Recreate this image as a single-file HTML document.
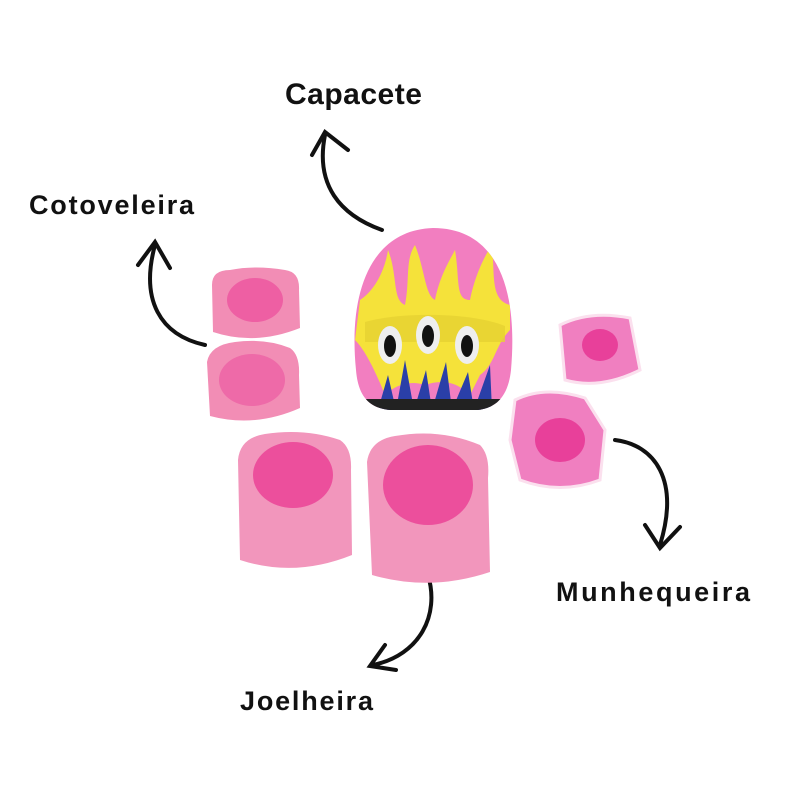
<!DOCTYPE html>
<html><head><meta charset="utf-8"><style>
html,body{margin:0;padding:0;background:#fff;width:800px;height:800px;overflow:hidden}
text{font-family:"Liberation Sans",sans-serif;font-weight:bold;fill:#111}
</style></head><body>
<svg width="800" height="800" viewBox="0 0 800 800" xmlns="http://www.w3.org/2000/svg">
<rect width="800" height="800" fill="#fff"/>
<text x="285" y="104" font-size="30" letter-spacing="0.5">Capacete</text>
<text x="29" y="214" font-size="27" letter-spacing="1.8">Cotoveleira</text>
<text x="556" y="601" font-size="27" letter-spacing="2.6">Munhequeira</text>
<text x="240" y="710" font-size="27" letter-spacing="1.8">Joelheira</text>
<g fill="none" stroke="#111" stroke-width="4" stroke-linecap="round">
<path d="M382 230 C340 215 315 185 325 135"/>
<path d="M312 155 L325 132 L348 150"/>
<path d="M205 345 C160 335 140 300 155 245"/>
<path d="M138 265 L155 242 L170 268"/>
<path d="M615 440 C655 445 680 480 660 545"/>
<path d="M645 525 L660 548 L680 527"/>
<path d="M428 575 C440 615 420 655 373 665"/>
<path d="M385 645 L370 666 L396 670"/>
</g>
<defs><clipPath id="h"><path d="M356 370 C348 290 372 230 433 228 C498 228 518 290 511 370 C508 398 495 408 478 410 L390 410 C368 408 358 395 356 370Z"/></clipPath></defs>
<path d="M356 370 C348 290 372 230 433 228 C498 228 518 290 511 370 C508 398 495 408 478 410 L390 410 C368 408 358 395 356 370Z" fill="#f27ec0"/>
<g clip-path="url(#h)">
<path d="M360 300 C375 290 385 270 388 250 C398 275 392 300 405 305 C410 280 405 260 415 245 C425 270 425 295 435 300 C440 275 450 260 455 250 C460 280 455 300 470 300 C475 275 485 255 492 245 C495 275 490 300 510 305 L510 330 C495 345 495 365 480 375 L470 395 C455 380 440 380 425 385 C410 380 395 385 385 395 C375 370 365 350 355 340 Z" fill="#f5e23a"/>
<path d="M365 322 C400 312 470 312 505 326 L505 342 L365 342Z" fill="#e6d232" opacity="0.8"/>
<path d="M378 410 L388 375 L396 410 L405 360 L414 410 L426 370 L432 410 L446 362 L452 410 L468 372 L474 410 L490 365 L492 410Z" fill="#2a3fa8"/>
<rect x="350" y="399" width="170" height="20" fill="#222"/>
</g>
<g fill="#eee"><ellipse cx="390" cy="345" rx="12" ry="19"/><ellipse cx="428" cy="335" rx="12" ry="19"/><ellipse cx="467" cy="345" rx="12" ry="19"/></g>
<g fill="#111"><ellipse cx="390" cy="346" rx="6" ry="11"/><ellipse cx="428" cy="336" rx="6" ry="11"/><ellipse cx="467" cy="346" rx="6" ry="11"/></g>
<path d="M212 285 Q212 270 230 270 Q255 265 285 270 Q300 272 299 290 L300 328 Q255 346 213 332Z" fill="#f28db5"/>
<ellipse cx="255" cy="300" rx="28" ry="22" fill="#ee5fa3"/>
<path d="M207 362 Q210 345 235 342 Q265 338 290 348 Q300 355 299 375 L300 408 Q255 428 210 416Z" fill="#f28db5"/>
<ellipse cx="252" cy="380" rx="33" ry="26" fill="#ee6aa8"/>
<path d="M238 460 Q240 438 265 434 Q305 428 340 440 Q352 448 351 470 L352 555 Q295 578 240 560Z" fill="#f296bc"/>
<ellipse cx="293" cy="475" rx="40" ry="33" fill="#ec4f9c"/>
<path d="M367 462 Q370 440 395 436 Q440 428 480 445 Q490 455 488 478 L490 572 Q430 592 372 575Z" fill="#f296bc"/>
<ellipse cx="428" cy="485" rx="45" ry="40" fill="#ec4f9c"/>
<path d="M560 325 Q590 310 630 318 L640 370 Q600 390 565 380 Z" fill="#f07fc0" stroke="#fbe0ee" stroke-width="3"/>
<path d="M515 400 Q545 385 585 398 L605 430 L600 480 Q560 495 520 480 L510 440Z" fill="#f07fc0" stroke="#fbe0ee" stroke-width="3"/>
<ellipse cx="560" cy="440" rx="25" ry="22" fill="#e8409a"/>
<ellipse cx="600" cy="345" rx="18" ry="16" fill="#e8409a"/>
</svg>
</body></html>
